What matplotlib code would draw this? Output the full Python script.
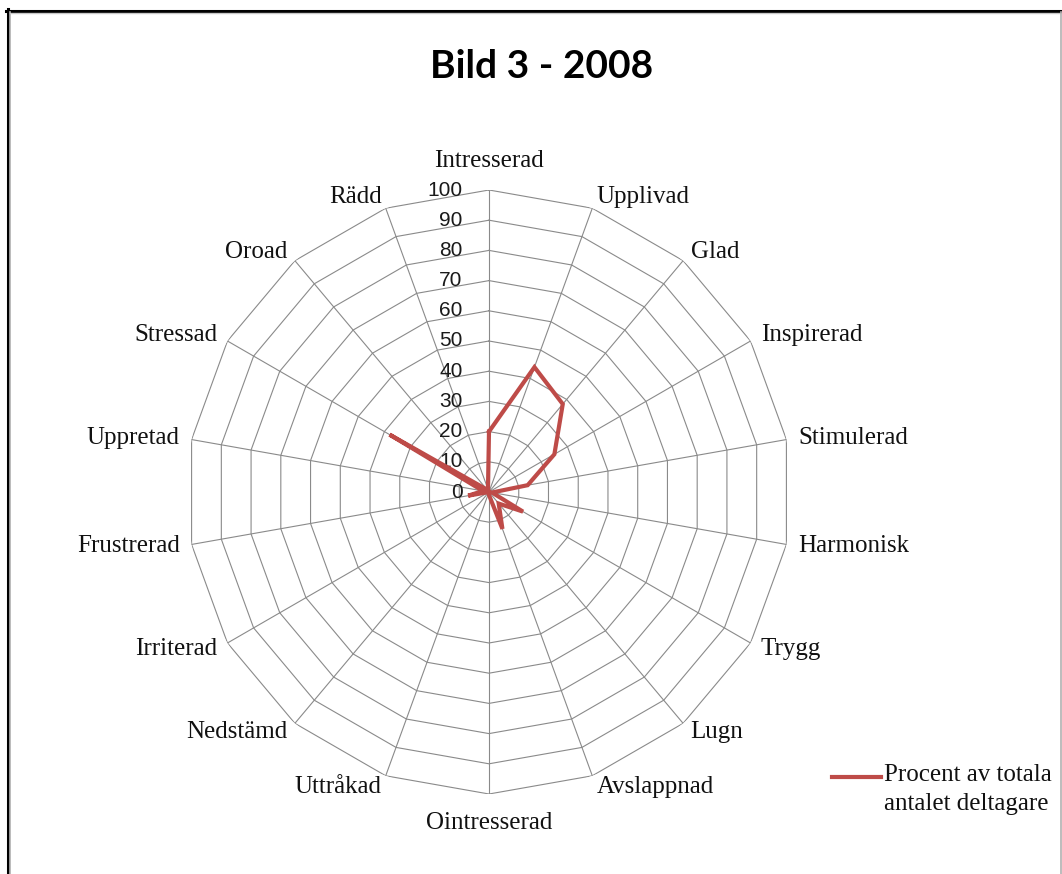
import numpy as np
import matplotlib.pyplot as plt
from matplotlib.lines import Line2D
from matplotlib.legend_handler import HandlerLine2D

categories = [
    "Intresserad", "Upplivad", "Glad", "Inspirerad", "Stimulerad",
    "Harmonisk", "Trygg", "Lugn", "Avslappnad", "Ointresserad",
    "Uttråkad", "Nedstämd", "Irriterad", "Frustrerad", "Uppretad",
    "Stressad", "Oroad", "Rädd",
]
values = [20, 44, 38, 25, 13, 1, 13, 5, 13, 1, 0, 0, 0, 7, 2, 38, 1, 1]
ticks = list(range(0, 101, 10))
series_name = "Procent av totala\nantalet deltagare"
title = "Bild 3 - 2008"


class TopLineHandler(HandlerLine2D):
    # legend line sits level with the first text row, like in Excel
    def create_artists(self, legend, orig_handle, xdescent, ydescent,
                       width, height, fontsize, trans):
        arts = super().create_artists(legend, orig_handle, xdescent, ydescent,
                                      width, height, fontsize, trans)
        for a in arts:
            a.set_ydata(np.asarray(a.get_ydata()) + 9)
        return arts


W, H = 1062, 874
fig = plt.figure(figsize=(W / 100, H / 100), dpi=100)

# polar axes placed so the centre sits at (489, 492) px with radius 302 px
cx, cy, R = 489, 492, 302
ax = fig.add_axes([(cx - R) / W, (H - cy - R) / H, 2 * R / W, 2 * R / H],
                  projection="polar")
ax.set_theta_zero_location("N")
ax.set_theta_direction(-1)
ax.set_ylim(0, 100)
ax.grid(False)
ax.spines["polar"].set_visible(False)
ax.set_xticks([])
ax.set_yticks([])
ax.patch.set_visible(False)

n = len(categories)
angles = np.deg2rad(np.arange(n) * 360 / n)
closed = np.append(angles, angles[0])

grid_col = "#8a8a8a"
for t in ticks[1:]:
    ax.plot(closed, [t] * (n + 1), color=grid_col, lw=0.8, zorder=1)
for a in angles:
    ax.plot([a, a], [0, ticks[-1]], color=grid_col, lw=0.8, zorder=1)

# radial tick labels left of the top spoke
for t in ticks:
    ax.annotate(str(t), xy=(0, t), xytext=(-19, 0), textcoords="offset points",
                ha="right", va="center", fontsize=15,
                family="Liberation Sans", color="#1a1a1a")

# category labels
for a, name in zip(angles, categories):
    s, c = np.sin(a), np.cos(a)
    if abs(s) < 0.1:
        ha = "center"
        va = "bottom" if c > 0 else "top"
        off = 13
    else:
        ha = "left" if s > 0 else "right"
        va = "center"
        off = 8.5
    ax.annotate(name, xy=(a, ticks[-1]), xytext=(off * s, off * c),
                textcoords="offset points", ha=ha, va=va, fontsize=18,
                family="Liberation Serif", color="#111111",
                annotation_clip=False)

line_col = "#BE4B48"
series, = ax.plot(closed, values + values[:1], color=line_col, lw=3,
                  label=series_name, zorder=3, solid_joinstyle="miter")

leg = fig.legend(loc="upper left", bbox_to_anchor=(832 / W, 1 - 764 / H),
                 frameon=False, prop={"family": "Liberation Serif", "size": 18},
                 handlelength=1.95, handletextpad=0.15, borderaxespad=0,
                 borderpad=0, handler_map={series: TopLineHandler()})
for t in leg.get_texts():
    t.set_linespacing(1.4)
    t.set_color("#111111")

fig.text(542 / W, 1 - 67 / H, title, ha="center", va="center",
         fontsize=28, fontweight="bold", family="Lato")

# frame around the chart
fig.add_artist(Line2D([7.5 / W, 7.5 / W], [0, 1 - 9 / H], color="black",
                      lw=2.2, transform=fig.transFigure))
fig.add_artist(Line2D([6 / W, 1], [1 - 10.5 / H, 1 - 10.5 / H],
                      color="black", lw=2.2, transform=fig.transFigure))
fig.add_artist(Line2D([10 / W, 10 / W], [0, 1 - 12 / H], color="#b0b0b0",
                      lw=1.2, transform=fig.transFigure))
fig.add_artist(Line2D([10 / W, 1061 / W], [1 - 12.8 / H, 1 - 12.8 / H],
                      color="#c8c8c8", lw=1, transform=fig.transFigure))
fig.add_artist(Line2D([1061 / W, 1061 / W], [0, 1 - 12 / H],
                      color="#b0b0b0", lw=1.2, transform=fig.transFigure))

fig.savefig("out.png", dpi=100)
